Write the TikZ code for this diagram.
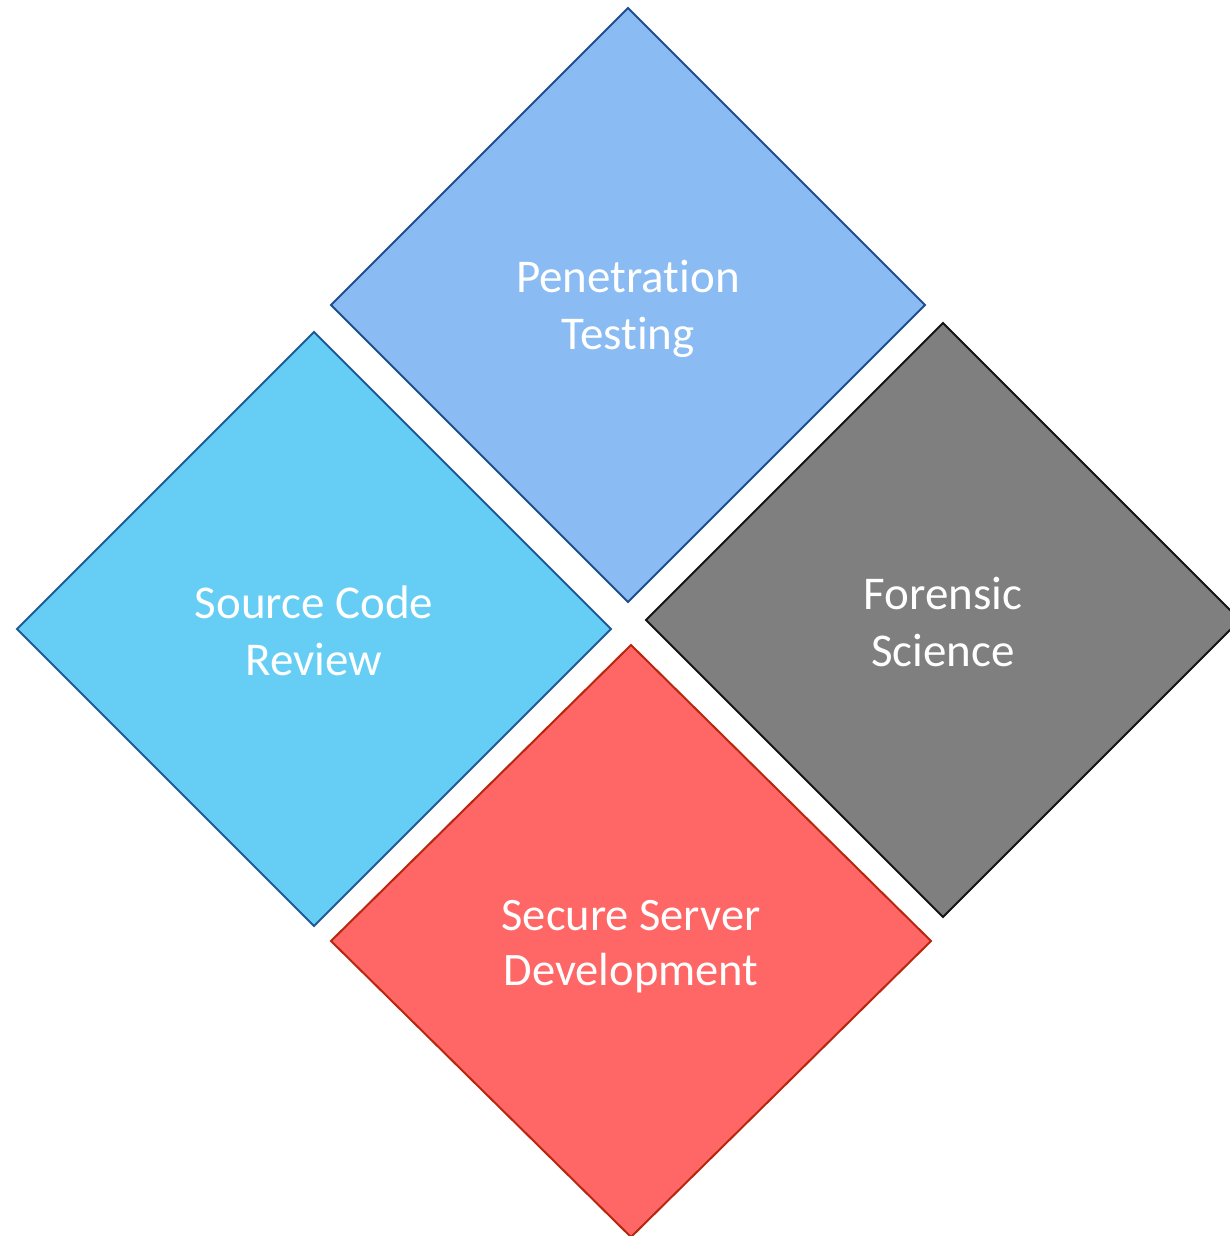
\documentclass[tikz,border=0pt]{standalone}
\usepackage{fontspec}
\setmainfont{Carlito}[Ligatures={NoCommon}]
\usetikzlibrary{shapes.geometric}
\definecolor{penfill}{HTML}{8ABBF2}
\definecolor{pendraw}{HTML}{1F4E8C}
\definecolor{srcfill}{HTML}{66CEF5}
\definecolor{srcdraw}{HTML}{1F5A96}
\definecolor{forfill}{HTML}{7F7F7F}
\definecolor{fordraw}{HTML}{141414}
\definecolor{secfill}{HTML}{FF6666}
\definecolor{secdraw}{HTML}{B8260E}
\tikzset{
  tile/.style={diamond, aspect=1, inner sep=0pt, outer sep=0pt, line width=2pt,
    minimum width=594pt, minimum height=594pt},
  tiletext/.style={text=white, align=center, inner sep=0pt,
    font=\fontsize{47}{57}\selectfont},
}
\begin{document}
\begin{tikzpicture}[x=1pt,y=-1pt]
\useasboundingbox (0,0) rectangle (1230,1236);
\clip (0,0) rectangle (1230,1236);
\node[tile, fill=penfill, draw=pendraw] (pen) at (628,305) {};
\node[tile, fill=srcfill, draw=srcdraw] (src) at (314,629) {};
\node[tile, fill=forfill, draw=fordraw] (for) at (943,620) {};
\node[tile, fill=secfill, draw=secdraw, minimum width=600pt, minimum height=592pt] (sec) at (631,941) {};
\node[tiletext] (pent) at ([yshift=-4pt]pen.center) {Penetration\\Testing};
\node[tiletext] (srct) at ([yshift=-2pt]src.center) {Source Code\\Review};
\node[tiletext] (fort) at ([yshift=-2pt]for.center) {Forensic\\Science};
\node[tiletext, font=\fontsize{46.5}{55}\selectfont] (sect) at ([yshift=-6pt]sec.center) {Secure Server\\Development};
\end{tikzpicture}
\end{document}
